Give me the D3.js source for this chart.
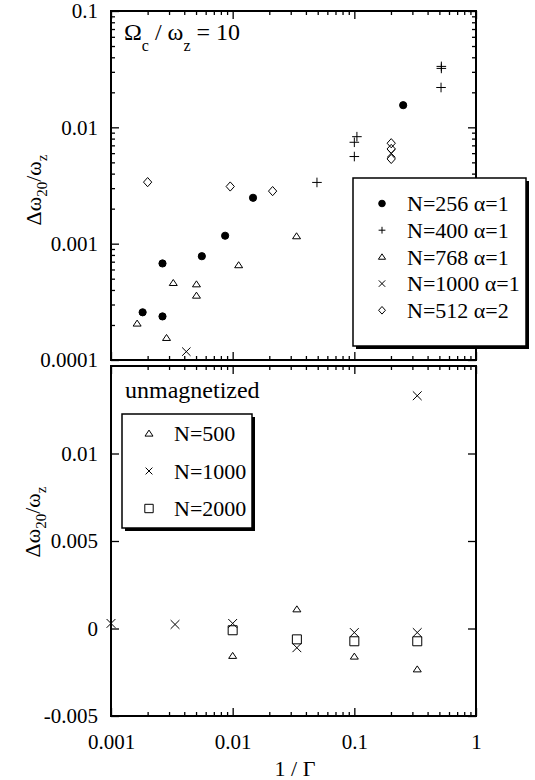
<!DOCTYPE html>
<html>
<head>
<meta charset="utf-8">
<script src="https://cdn.jsdelivr.net/npm/d3@7"></script>
<style>
body { margin: 0; background: #fff; }
text { font-family: "Liberation Serif", "Times New Roman", serif; fill: #000; }
</style>
</head>
<body>
<script>
//Data, upper panel (Omega_c / omega_z = 10), log-log
var n256X = [0.00182, 0.00265, 0.00265, 0.00558, 0.00867, 0.0147, 0.252];
var n256Y = [0.000257, 0.000237, 0.000676, 0.00078, 0.00117, 0.00248, 0.0155];
var n400X = [0.0493, 0.1, 0.1, 0.105, 0.516, 0.519, 0.519];
var n400Y = [0.00336, 0.00561, 0.00744, 0.00831, 0.0220, 0.0321, 0.0334];
var n768X = [0.00164, 0.00286, 0.00325, 0.00504, 0.00504, 0.0112, 0.0335];
var n768Y = [0.000206, 0.000155, 0.00046, 0.000448, 0.000358, 0.000654, 0.00116];
var n1000X = [0.00416, 0.201];
var n1000Y = [0.000118, 0.00598];
var n512X = [0.002, 0.00955, 0.0213, 0.201, 0.201, 0.201];
var n512Y = [0.00338, 0.0031, 0.00283, 0.0073, 0.00652, 0.00535];
var topNames = ["N=256 \u03b1=1", "N=400 \u03b1=1", "N=768 \u03b1=1", "N=1000 \u03b1=1", "N=512 \u03b1=2"];

//Data, lower panel (unmagnetized), log-linear
var u500X = [0.01, 0.0337, 0.1, 0.329];
var u500Y = [-0.00156, 0.0011, -0.0016, -0.00233];
var u1000X = [0.001, 0.00336, 0.01, 0.0337, 0.1, 0.329, 0.329];
var u1000Y = [0.00029, 0.00023, 0.00029, -0.0011, -0.00023, -0.00023, 0.0133];
var u2000X = [0.01, 0.0337, 0.1, 0.329];
var u2000Y = [-0.0001, -0.00062, -0.00073, -0.00073];
var bottomNames = ["N=500", "N=1000", "N=2000"];

//Ticks
var xTicks = [0.001, 0.01, 0.1, 1];
var xTickLabels = ["0.001", "0.01", "0.1", "1"];
var topYTicks = [0.1, 0.01, 0.001, 0.0001];
var topYTickLabels = ["0.1", "0.01", "0.001", "0.0001"];
var bottomYTicks = [-0.005, 0, 0.005, 0.01];
var bottomYTickLabels = ["-0.005", "0", "0.005", "0.01"];

//Settings
var width = 535;
var height = 780;
var left = 111, right = 476;
var topPanel = {top: 11, bottom: 360};
var bottomPanel = {top: 366, bottom: 716};
var majorLen = 8;
var minorLen = 4;
var tickFont = 21;

//Marker shapes, size = half width
var shapes = {
    dot: {draw: function(ctx, r) { ctx.moveTo(r, 0); ctx.arc(0, 0, r, 0, 2 * Math.PI); }},
    plus: {draw: function(ctx, r) { ctx.moveTo(-r, 0); ctx.lineTo(r, 0); ctx.moveTo(0, -r); ctx.lineTo(0, r); }},
    tri: {draw: function(ctx, r) { ctx.moveTo(0, -r * 0.85); ctx.lineTo(r, r * 0.65); ctx.lineTo(-r, r * 0.65); ctx.closePath(); }},
    times: {draw: function(ctx, r) { ctx.moveTo(-r, -r); ctx.lineTo(r, r); ctx.moveTo(-r, r); ctx.lineTo(r, -r); }},
    diamond: {draw: function(ctx, r) { ctx.moveTo(0, -r); ctx.lineTo(r * 0.9, 0); ctx.lineTo(0, r); ctx.lineTo(-r * 0.9, 0); ctx.closePath(); }},
    square: {draw: function(ctx, r) { ctx.rect(-r, -r, 2 * r, 2 * r); }}
};

var topSeries = [
    {xs: n256X, ys: n256Y, shape: "dot", r: 3.6, fill: true, lr: 3.3},
    {xs: n400X, ys: n400Y, shape: "plus", r: 4.8, fill: false, lr: 3.4},
    {xs: n768X, ys: n768Y, shape: "tri", r: 4, fill: false, lr: 3.6},
    {xs: n1000X, ys: n1000Y, shape: "times", r: 4.2, fill: false, lr: 3.2},
    {xs: n512X, ys: n512Y, shape: "diamond", r: 4.6, fill: false, lr: 3.8}
];
var bottomSeries = [
    {xs: u500X, ys: u500Y, shape: "tri", r: 4, fill: false, lr: 4},
    {xs: u1000X, ys: u1000Y, shape: "times", r: 4.4, fill: false, lr: 3.4},
    {xs: u2000X, ys: u2000Y, shape: "square", r: 4.5, fill: false, lr: 4.2}
];

//SVG
var svg = d3.select("body").append("svg").attr("width", width).attr("height", height);
svg.append("rect").attr("width", width).attr("height", height).attr("fill", "#fff");

//Scales
var x = d3.scaleLog().domain([0.001, 1]).range([left, right]);
var yTop = d3.scaleLog().domain([0.0001, 0.1]).range([topPanel.bottom, topPanel.top]);
var yBottom = d3.scaleLinear().domain([-0.005, 0.015]).range([bottomPanel.bottom, bottomPanel.top]);

var xMinor = x.ticks().filter(function(v) { return xTicks.indexOf(v) < 0; });
var yTopMinor = yTop.ticks().filter(function(v) { return topYTicks.indexOf(v) < 0; });

function styleAxis(g)
{
    g.select(".domain").remove();
    g.selectAll("line").attr("stroke", "#000").attr("stroke-width", 1.3);
    g.selectAll("text").attr("font-size", tickFont).attr("font-family", null);
    g.attr("font-family", null);
}

function drawFrame(panel, yScale, yMajor, yMinor, yLabels, xLabels)
{
    var g = svg.append("g");

    //Top and bottom edges
    g.append("g").attr("transform", "translate(0," + panel.top + ")")
        .call(d3.axisTop(x).tickValues(xTicks).tickSize(-majorLen).tickFormat("")).call(styleAxis);
    g.append("g").attr("transform", "translate(0," + panel.top + ")")
        .call(d3.axisTop(x).tickValues(xMinor).tickSize(-minorLen).tickFormat("")).call(styleAxis);
    var bottomAxis = d3.axisBottom(x).tickValues(xTicks).tickSize(-majorLen).tickPadding(18)
        .tickFormat(function(d, i) { return xLabels ? xLabels[i] : ""; });
    g.append("g").attr("transform", "translate(0," + panel.bottom + ")").call(bottomAxis).call(styleAxis);
    g.append("g").attr("transform", "translate(0," + panel.bottom + ")")
        .call(d3.axisBottom(x).tickValues(xMinor).tickSize(-minorLen).tickFormat("")).call(styleAxis);

    //Left and right edges
    g.append("g").attr("transform", "translate(" + left + ",0)")
        .call(d3.axisLeft(yScale).tickValues(yMajor).tickSize(-majorLen).tickPadding(13)
            .tickFormat(function(d, i) { return yLabels[i]; })).call(styleAxis);
    g.append("g").attr("transform", "translate(" + right + ",0)")
        .call(d3.axisRight(yScale).tickValues(yMajor).tickSize(-majorLen).tickFormat("")).call(styleAxis);
    if(yMinor)
    {
        g.append("g").attr("transform", "translate(" + left + ",0)")
            .call(d3.axisLeft(yScale).tickValues(yMinor).tickSize(-minorLen).tickFormat("")).call(styleAxis);
        g.append("g").attr("transform", "translate(" + right + ",0)")
            .call(d3.axisRight(yScale).tickValues(yMinor).tickSize(-minorLen).tickFormat("")).call(styleAxis);
    }

    //Frame
    g.append("rect").attr("x", left).attr("y", panel.top).attr("width", right - left).attr("height", panel.bottom - panel.top)
        .attr("fill", "none").attr("stroke", "#000").attr("stroke-width", 2);
}

function drawPoints(series, yScale)
{
    series.forEach(function(s)
    {
        var pts = s.xs.map(function(v, i) { return [v, s.ys[i]]; });
        svg.append("g").selectAll("path").data(pts).join("path")
            .attr("transform", function(d) { return "translate(" + x(d[0]) + "," + yScale(d[1]) + ")"; })
            .attr("d", d3.symbol(shapes[s.shape], s.r))
            .attr("fill", s.fill ? "#000" : "none")
            .attr("stroke", "#000").attr("stroke-width", 1);
    });
}

function drawLegend(series, names, box, markerX, textX, rowY, rowStep, fontSize)
{
    var g = svg.append("g");
    g.append("rect").attr("x", box.x + 3).attr("y", box.y + 3).attr("width", box.w).attr("height", box.h).attr("fill", "#000");
    g.append("rect").attr("x", box.x).attr("y", box.y).attr("width", box.w).attr("height", box.h)
        .attr("fill", "#fff").attr("stroke", "#000").attr("stroke-width", 1.5);
    series.forEach(function(s, i)
    {
        var cy = rowY + i * rowStep;
        g.append("path").attr("transform", "translate(" + markerX + "," + cy + ")")
            .attr("d", d3.symbol(shapes[s.shape], s.lr))
            .attr("fill", s.fill ? "#000" : "none").attr("stroke", "#000").attr("stroke-width", 1);
        g.append("text").attr("x", textX).attr("y", cy).attr("dy", "0.35em").attr("font-size", fontSize).text(names[i]);
    });
}

//Panels
drawFrame(topPanel, yTop, topYTicks, yTopMinor, topYTickLabels, null);
drawFrame(bottomPanel, yBottom, bottomYTicks, null, bottomYTickLabels, xTickLabels);

drawPoints(topSeries, yTop);
drawPoints(bottomSeries, yBottom);

//Legends
drawLegend(topSeries, topNames, {x: 353, y: 178, w: 173, h: 168}, 382, 407, 203.5, 26.7, 22);
drawLegend(bottomSeries, bottomNames, {x: 122, y: 414, w: 130, h: 114}, 149, 174, 433.5, 37.5, 22);

//Panel annotations
var title = svg.append("text").attr("x", 124).attr("y", 40).attr("font-size", 24);
title.append("tspan").text("\u03a9");
title.append("tspan").attr("font-size", 16).attr("dy", 11).text("c");
title.append("tspan").attr("dy", -11).text(" / \u03c9");
title.append("tspan").attr("font-size", 16).attr("dy", 11).text("z");
title.append("tspan").attr("dy", -11).text(" = 10");

svg.append("text").attr("x", 125).attr("y", 398).attr("font-size", 24).text("unmagnetized");

//Axis titles
function yTitle(cx, cy)
{
    var t = svg.append("text").attr("transform", "translate(" + cx + "," + cy + ") rotate(-90)")
        .attr("text-anchor", "middle").attr("font-size", 22);
    t.append("tspan").text("\u0394\u03c9");
    t.append("tspan").attr("font-size", 15).attr("dy", 6).text("20");
    t.append("tspan").attr("dy", -6).text("/\u03c9");
    t.append("tspan").attr("font-size", 15).attr("dy", 6).text("z");
}
yTitle(41, 190);
yTitle(40, 522);

svg.append("text").attr("x", 295).attr("y", 776).attr("text-anchor", "middle").attr("font-size", 22).text("1 / \u0393");
</script>
</body>
</html>
